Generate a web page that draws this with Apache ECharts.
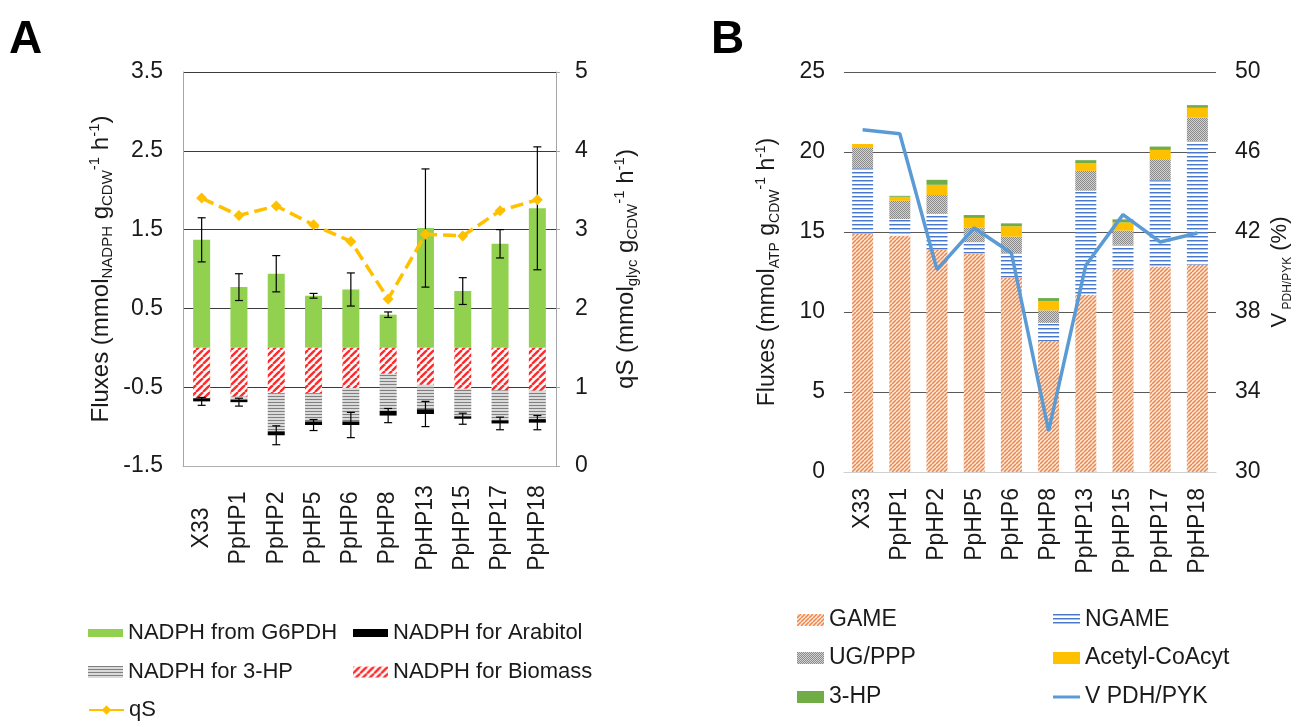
<!DOCTYPE html>
<html><head><meta charset="utf-8">
<script src="https://cdn.jsdelivr.net/npm/echarts@6/dist/echarts.min.js"></script>
<style>html,body{margin:0;padding:0;background:#fff}#c{width:1308px;height:727px}</style>
</head><body><div id="c"></div>
<script>
// ---- data ----
const categories = ['X33','PpHP1','PpHP2','PpHP5','PpHP6','PpHP8','PpHP13','PpHP15','PpHP17','PpHP18'];
// Panel A (left axis, mmol NADPH)
const nadphG6pdh    = [1.37, 0.77, 0.94, 0.66, 0.74, 0.42, 1.52, 0.72, 1.32, 1.77];
const nadphG6pdhErr = [0.28, 0.17, 0.23, 0.03, 0.21, 0.035, 0.75, 0.17, 0.18, 0.78];
const nadphBiomass  = [-0.64, -0.62, -0.575, -0.575, -0.51, -0.33, -0.47, -0.52, -0.54, -0.545];
const nadph3HP      = [0, -0.04, -0.485, -0.36, -0.425, -0.47, -0.31, -0.35, -0.38, -0.36];
const nadphArabitol = [-0.04, -0.03, -0.05, -0.045, -0.045, -0.06, -0.06, -0.03, -0.04, -0.045];
const nadphNegErr   = [0.05, 0.05, 0.12, 0.07, 0.16, 0.09, 0.16, 0.07, 0.08, 0.09];
// Panel A (right axis, qS)
const qS = [3.40, 3.18, 3.30, 3.06, 2.85, 2.12, 2.94, 2.92, 3.24, 3.38];
// Panel B (left axis, mmol ATP)
const game   = [14.88, 14.78, 13.88, 13.64, 12.14, 8.19, 11.08, 12.70, 12.85, 12.97];
const ngame  = [4.10, 1.03, 2.25, 0.72, 1.54, 1.13, 6.50, 1.50, 5.39, 7.72];
const ugppp  = [1.27, 1.14, 1.18, 0.93, 1.03, 0.78, 1.24, 0.89, 1.31, 1.45];
const acetyl = [0.25, 0.25, 0.64, 0.59, 0.65, 0.59, 0.48, 0.51, 0.58, 0.62];
const hp3    = [0, 0.06, 0.31, 0.18, 0.18, 0.18, 0.19, 0.19, 0.21, 0.17];
// Panel B (right axis, %)
const vPdhPyk = [47.11, 46.91, 40.12, 42.20, 40.95, 32.06, 40.34, 42.87, 41.50, 41.95];
// tick settings
const ticksALeft = {min: -1.5, max: 3.5, interval: 1};
const ticksARight = {min: 0, max: 5, interval: 1};
const ticksBLeft = {min: 0, max: 25, interval: 5};
const ticksBRight = {min: 30, max: 50, interval: 4};

// ---- patterns ----
function pat(w, h, draw){const c=document.createElement('canvas');c.width=w;c.height=h;const g=c.getContext('2d');draw(g,w,h);return {image:c,repeat:'repeat'};}
function diag(size, bg, fg, lw){return pat(size,size,(g,w,h)=>{g.fillStyle=bg;g.fillRect(0,0,w,h);g.strokeStyle=fg;g.lineWidth=lw;for(let k=-1;k<=1;k++){g.beginPath();g.moveTo(k*w,h);g.lineTo(k*w+w,0);g.stroke();}});}
const patBiomass = diag(7,'#ffffff','#ff2a2a',2.4);
const patGame = diag(4,'#fbe9dd','#ee8447',1.4);
const pat3HPgray = pat(4,3,(g,w,h)=>{g.fillStyle='#dadada';g.fillRect(0,0,w,h);g.fillStyle='#808080';g.fillRect(0,0,w,1);});
const patNgame = pat(4,4,(g,w,h)=>{g.fillStyle='#ffffff';g.fillRect(0,0,w,h);g.fillStyle='#4a78c8';g.fillRect(0,0,w,1);g.fillStyle='#a9c0ea';g.fillRect(0,1,w,1);});
const patUg = pat(2,2,(g,w,h)=>{g.fillStyle='#d2d2d2';g.fillRect(0,0,2,2);g.fillStyle='#8a8a8a';g.fillRect(0,0,1,1);g.fillRect(1,1,1,1);});

const FONT = '"Liberation Sans", Arial, sans-serif';
const TXT = '#1a1a1a';
function nameRich(m, s){return {
  m:{fontSize:m,fontFamily:FONT,color:TXT,lineHeight:28,verticalAlign:'middle'},
  sub:{fontSize:s,fontFamily:FONT,color:TXT,lineHeight:14,verticalAlign:'bottom'},
  sup:{fontSize:s,fontFamily:FONT,color:TXT,lineHeight:20,verticalAlign:'top'}};}

// error bar data
const errA = [];
categories.forEach((c,i)=>{
  errA.push([i, nadphG6pdh[i]-nadphG6pdhErr[i], nadphG6pdh[i]+nadphG6pdhErr[i]]);
  const neg = nadphBiomass[i]+nadph3HP[i]+nadphArabitol[i];
  errA.push([i, neg-nadphNegErr[i], neg+nadphNegErr[i]]);
});
function renderErr(params, api){
  const x=api.value(0);const lo=api.coord([x,api.value(1)]);const hi=api.coord([x,api.value(2)]);const w=4;
  const st={stroke:'#000',lineWidth:1.2};
  return {type:'group',children:[
    {type:'line',shape:{x1:lo[0],y1:lo[1],x2:hi[0],y2:hi[1]},style:st},
    {type:'line',shape:{x1:lo[0]-w,y1:lo[1],x2:lo[0]+w,y2:lo[1]},style:st},
    {type:'line',shape:{x1:hi[0]-w,y1:hi[1],x2:hi[0]+w,y2:hi[1]},style:st}
  ]};
}

function leg(name, left, top, w, h, fs, extra){
  return Object.assign({data:[name],left:left,top:top,itemWidth:w,itemHeight:h,selectedMode:false,padding:0,icon:'rect',
    textStyle:{fontSize:fs,fontFamily:FONT,color:TXT,lineHeight:24}}, extra||{});
}

const chart = echarts.init(document.getElementById('c'), null, {renderer:'canvas'});
chart.setOption({
  animation:false,
  backgroundColor:'#fff',
  graphic:[
    {type:'text',left:9,top:17,style:{text:'A',font:'bold 46px '+FONT,fill:'#000'}},
    {type:'text',left:711,top:17,style:{text:'B',font:'bold 46px '+FONT,fill:'#000'}}
  ],
  grid:[
    {left:183,right:752,top:72,bottom:261},
    {left:844,right:92,top:72,bottom:255}
  ],
  xAxis:[
    {type:'category',gridIndex:0,data:categories,
     axisLine:{onZero:false,lineStyle:{color:'#b0b0b0',width:1}},axisTick:{show:false},
     axisLabel:{rotate:90,margin:17,formatter:v=>'{c|'+v+'}',
       rich:{c:{width:90,align:'center',fontSize:23,fontFamily:FONT,color:TXT}}}},
    {type:'category',gridIndex:1,data:categories,
     axisLine:{onZero:false,lineStyle:{color:'#d0d0d0',width:1}},axisTick:{show:false},
     axisLabel:{rotate:90,margin:16,fontSize:23,fontFamily:FONT,color:TXT}}
  ],
  yAxis:[
    Object.assign({type:'value',gridIndex:0,
     name:'{m|Fluxes (mmol}{sub|NADPH}{m| g}{sub|CDW}{sup|-1}{m| h}{sup|-1}{m|)}',
     nameLocation:'middle',nameRotate:90,nameGap:68,nameTextStyle:{rich:nameRich(24,15)},
     axisLine:{show:true,lineStyle:{color:'#a6a6a6'}},axisTick:{show:false},
     axisLabel:{margin:20,fontSize:23,fontFamily:FONT,color:TXT,formatter:v=>v.toFixed(1)},
     splitLine:{show:true,showMinLine:false,lineStyle:{color:'#3a3a3a',width:1}}}, ticksALeft),
    Object.assign({type:'value',gridIndex:0,position:'right',
     name:'{m|qS (mmol}{sub|glyc}{m| g}{sub|CDW}{sup|-1}{m| h}{sup|-1}{m|)}',
     nameLocation:'middle',nameRotate:90,nameGap:56,nameTextStyle:{rich:nameRich(24,15)},
     axisLine:{show:true,lineStyle:{color:'#a6a6a6'}},axisTick:{show:true,length:4,lineStyle:{color:'#a6a6a6'}},
     axisLabel:{margin:19,fontSize:23,fontFamily:FONT,color:TXT},
     splitLine:{show:false}}, ticksARight),
    Object.assign({type:'value',gridIndex:1,
     name:'{m|Fluxes (mmol}{sub|ATP}{m| g}{sub|CDW}{sup|-1}{m| h}{sup|-1}{m|)}',
     nameLocation:'middle',nameRotate:90,nameGap:62,nameTextStyle:{rich:nameRich(23,14)},
     axisLine:{show:false},axisTick:{show:false},
     axisLabel:{margin:19,fontSize:23,fontFamily:FONT,color:TXT},
     splitLine:{show:true,showMinLine:false,lineStyle:{color:'#595959',width:1.2}}}, ticksBLeft),
    Object.assign({type:'value',gridIndex:1,position:'right',
     name:'{m|V}{sub| PDH/PYK}{m| (%)}',
     nameLocation:'middle',nameRotate:90,nameGap:50,nameTextStyle:{rich:nameRich(22,12)},
     axisLine:{show:false},axisTick:{show:false},
     axisLabel:{margin:19,fontSize:23,fontFamily:FONT,color:TXT},
     splitLine:{show:false}}, ticksBRight)
  ],
  legend:[
    leg('NADPH from G6PDH',88,621,35,8,22),
    leg('NADPH for Arabitol',353,621,35,8,22),
    leg('NADPH for 3-HP',88,660,35,12,22),
    leg('NADPH for Biomass',353,660,35,11,22),
    leg('qS',88,698,35,12,22,{icon:null,data:[{name:'qS',lineStyle:{type:'solid'}}]}),
    leg('GAME',797,608,27,12,23),
    leg('UG/PPP',797,646,27,12,23),
    leg('3-HP',797,685,27,12,23),
    leg('NGAME',1053,608,27,12,23),
    leg('Acetyl-CoAcyt',1053,646,27,12,23),
    leg('V PDH/PYK',1053,685,27,3,23)
  ],
  series:[
    {name:'NADPH from G6PDH',type:'bar',xAxisIndex:0,yAxisIndex:0,stack:'a',barWidth:17,data:nadphG6pdh,itemStyle:{color:'#92d050'}},
    {name:'NADPH for Biomass',type:'bar',xAxisIndex:0,yAxisIndex:0,stack:'a',barWidth:17,data:nadphBiomass,itemStyle:{color:patBiomass}},
    {name:'NADPH for 3-HP',type:'bar',xAxisIndex:0,yAxisIndex:0,stack:'a',barWidth:17,data:nadph3HP,itemStyle:{color:pat3HPgray}},
    {name:'NADPH for Arabitol',type:'bar',xAxisIndex:0,yAxisIndex:0,stack:'a',barWidth:17,data:nadphArabitol,itemStyle:{color:'#000'}},
    {type:'custom',xAxisIndex:0,yAxisIndex:0,renderItem:renderErr,data:errA,encode:{x:0,y:[1,2]},z:5,silent:true},
    {name:'qS',type:'line',xAxisIndex:0,yAxisIndex:1,data:qS,symbol:'diamond',symbolSize:11,
     lineStyle:{color:'#ffc000',width:3.5,type:[13,6]},itemStyle:{color:'#ffc000'},z:10},

    {name:'GAME',type:'bar',xAxisIndex:1,yAxisIndex:2,stack:'b',barWidth:21,data:game,itemStyle:{color:patGame}},
    {name:'NGAME',type:'bar',xAxisIndex:1,yAxisIndex:2,stack:'b',barWidth:21,data:ngame,itemStyle:{color:patNgame}},
    {name:'UG/PPP',type:'bar',xAxisIndex:1,yAxisIndex:2,stack:'b',barWidth:21,data:ugppp,itemStyle:{color:patUg}},
    {name:'Acetyl-CoAcyt',type:'bar',xAxisIndex:1,yAxisIndex:2,stack:'b',barWidth:21,data:acetyl,itemStyle:{color:'#ffc000'}},
    {name:'3-HP',type:'bar',xAxisIndex:1,yAxisIndex:2,stack:'b',barWidth:21,data:hp3,itemStyle:{color:'#70ad47'}},
    {name:'V PDH/PYK',type:'line',xAxisIndex:1,yAxisIndex:3,data:vPdhPyk,symbol:'none',
     lineStyle:{color:'#5b9bd5',width:3.5},itemStyle:{color:'#5b9bd5'},z:10}
  ]
});
</script></body></html>
